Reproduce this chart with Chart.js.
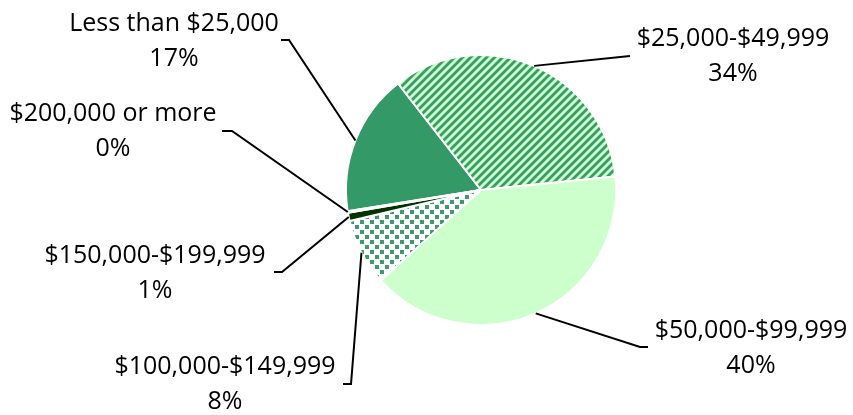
<!DOCTYPE html>
<html>
<head>
<meta charset="utf-8">
<script src="https://cdn.jsdelivr.net/npm/chart.js@4/dist/chart.umd.min.js"></script>
<style>
  html, body { margin: 0; padding: 0; background: #ffffff; }
  #wrap { width: 853px; height: 415px; }
</style>
</head>
<body>
<div id="wrap"><canvas id="c" width="853" height="415"></canvas></div>
<script>
// ---- data ----
const categories = [
  "Less than $25,000",
  "$25,000-$49,999",
  "$50,000-$99,999",
  "$100,000-$149,999",
  "$150,000-$199,999",
  "$200,000 or more"
];
const shares = [17, 34, 40, 8, 1, 0.2];

// ---- fills ----
function stripePattern() {
  const s = 8;
  const cv = document.createElement('canvas');
  cv.width = s; cv.height = s;
  const g = cv.getContext('2d');
  g.fillStyle = '#ccffcc';
  g.fillRect(0, 0, s, s);
  g.strokeStyle = '#3a9c68';
  g.lineWidth = 2.8;
  for (const off of [-s, 0, s]) {
    g.beginPath();
    g.moveTo(off - 1, s + 1);
    g.lineTo(off + s + 1, -1);
    g.stroke();
  }
  return g.createPattern(cv, 'repeat');
}
function checkerPattern() {
  const s = 10;
  const cv = document.createElement('canvas');
  cv.width = s; cv.height = s;
  const g = cv.getContext('2d');
  g.fillStyle = '#ffffff';
  g.fillRect(0, 0, s, s);
  g.fillStyle = '#3a9c68';
  g.fillRect(0, 0, 4, 4);
  g.fillRect(5, 5, 4, 4);
  return g.createPattern(cv, 'repeat');
}

const fills = ['#339966', stripePattern(), '#ccffcc', checkerPattern(), '#003300', '#1a4d33'];

// label layout (text centre x, first line y) and leader anchors
const labelPos = [
  { x: 174, y: 24, ax: 281, ay: 40, bx: 289 },
  { x: 733, y: 39, ax: 630, ay: 56, bx: 630 },
  { x: 751, y: 331, ax: 648, ay: 347, bx: 640 },
  { x: 225, y: 367, ax: 343, ay: 384, bx: 351 },
  { x: 155, y: 256, ax: 274, ay: 272, bx: 282 },
  { x: 113, y: 114, ax: 222, ay: 131, bx: 232 }
];

const FONT = '25px "Open Sans", Lato, sans-serif';

const labelsPlugin = {
  id: 'pieLabels',
  afterDraw(chart) {
    const ctx = chart.ctx;
    const meta = chart.getDatasetMeta(0);
    const total = shares.reduce((a, b) => a + b, 0);
    ctx.save();
    ctx.font = FONT;
    ctx.fillStyle = '#000000';
    ctx.textAlign = 'center';
    ctx.textBaseline = 'middle';
    meta.data.forEach((arc, i) => {
      const p = labelPos[i];
      const mid = (arc.startAngle + arc.endAngle) / 2;
      const ex = arc.x + Math.cos(mid) * arc.outerRadius;
      const ey = arc.y + Math.sin(mid) * arc.outerRadius;
      ctx.strokeStyle = '#000000';
      ctx.lineWidth = 2;
      ctx.beginPath();
      ctx.moveTo(p.ax, p.ay);
      ctx.lineTo(p.bx, p.ay);
      ctx.lineTo(ex, ey);
      ctx.stroke();
      const pct = Math.round(shares[i] / total * 100) + '%';
      ctx.fillText(categories[i], p.x, p.y);
      ctx.fillText(pct, p.x, p.y + 35);
    });
    ctx.restore();
  }
};

new Chart(document.getElementById('c'), {
  type: 'pie',
  data: {
    labels: categories,
    datasets: [{
      data: shares,
      backgroundColor: fills,
      borderColor: '#ffffff',
      borderWidth: 2
    }]
  },
  options: {
    responsive: false,
    animation: false,
    rotation: 261,
    layout: { padding: { left: 345, right: 236, top: 54, bottom: 89 } },
    plugins: {
      legend: { display: false },
      tooltip: { enabled: false }
    }
  },
  plugins: [labelsPlugin]
});
</script>
</body>
</html>
